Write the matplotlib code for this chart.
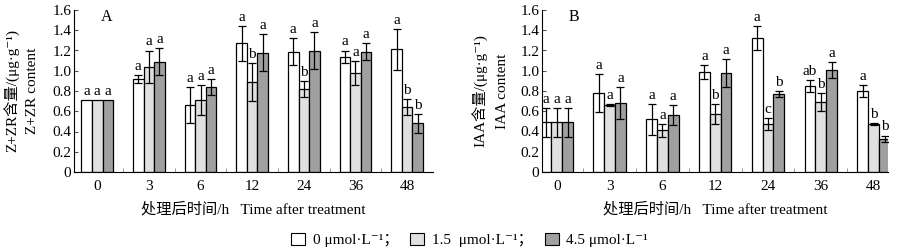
import numpy as np
import matplotlib
matplotlib.use('Agg')
import matplotlib.pyplot as plt
from matplotlib.patches import Patch

plt.rcParams['font.family'] = ['Liberation Serif', 'Noto Sans CJK SC', 'DejaVu Serif']
plt.rcParams['font.size'] = 11

HOURS = ["0", "3", "6", "12", "24", "36", "48"]
SERIES = ["0 μmol·L⁻¹；", "1.5  μmol·L⁻¹；", "4.5 μmol·L⁻¹"]
COLORS = ["white", "#e0e0e0", "#a0a0a0"]

# Z+ZR content (panel A)
zr_mean = [[0.71, 0.92, 0.66, 1.27, 1.19, 1.14, 1.21],
           [0.71, 1.04, 0.71, 0.89, 0.82, 0.98, 0.64],
           [0.71, 1.09, 0.84, 1.18, 1.20, 1.19, 0.48]]
zr_err = [[0.00, 0.04, 0.18, 0.17, 0.13, 0.06, 0.20],
          [0.00, 0.16, 0.15, 0.19, 0.08, 0.12, 0.08],
          [0.00, 0.13, 0.08, 0.18, 0.18, 0.08, 0.09]]
zr_sig = [["a", "a", "a", "a", "a", "a", "a"],
          ["a", "a", "a", "b", "b", "a", "b"],
          ["a", "a", "a", "a", "a", "a", "b"]]

# IAA content (panel B)
iaa_mean = [[0.49, 0.78, 0.52, 0.99, 1.32, 0.85, 0.80],
            [0.49, 0.66, 0.41, 0.57, 0.47, 0.69, 0.47],
            [0.49, 0.68, 0.56, 0.98, 0.77, 1.01, 0.33]]
iaa_err = [[0.14, 0.19, 0.15, 0.07, 0.12, 0.06, 0.06],
           [0.14, 0.01, 0.06, 0.10, 0.06, 0.09, 0.01],
           [0.14, 0.16, 0.10, 0.14, 0.03, 0.08, 0.03]]
iaa_sig = [["a", "a", "a", "a", "a", "ab", "a"],
           ["a", "a", "a", "b", "c", "b", "b"],
           ["a", "a", "a", "a", "b", "a", "b"]]


def draw_panel(ax, means, errs, sigs, letter, ylab1, ylab2, xlim, fig, ylx):
    x = np.arange(len(HOURS))
    w = 0.205
    for i in range(3):
        pos = x + (i - 1) * w
        ax.bar(pos, means[i], width=w, color=COLORS[i], edgecolor='black',
               linewidth=0.9, zorder=2)
        e = np.array(errs[i])
        m = np.array(means[i])
        mask = e > 0
        ax.errorbar(pos[mask], m[mask], yerr=e[mask], fmt='none',
                    ecolor='black', elinewidth=0.9, capsize=3, capthick=0.9,
                    zorder=3)
        for p, v, er, s in zip(pos, m, e, sigs[i]):
            ax.annotate(s, (p, v + er), xytext=(0, 1.5), textcoords='offset points',
                        ha='center', va='bottom', fontsize=11)
    ax.set_xlim(*xlim)
    ax.set_ylim(0, 1.6)
    ax.set_yticks(np.arange(0, 1.61, 0.2))
    ax.set_yticklabels(["0"] + [f"{v:.1f}" for v in np.arange(0.2, 1.61, 0.2)])
    ax.set_xticks(x)
    ax.set_xticklabels(HOURS)
    ax.set_xticks(x[:-1] + 0.5, minor=True)
    ax.tick_params(axis='x', which='major', length=0, pad=6)
    ax.tick_params(axis='x', which='minor', length=3, direction='in', color='#888888')
    ax.tick_params(axis='y', length=3, direction='in', color='#555555', pad=2)
    for s in ['top', 'right']:
        ax.spines[s].set_visible(False)
    ax.set_xlabel("处理后时间/h   Time after treatment", labelpad=6)
    ax.text(0.092, 0.955, letter, transform=ax.transAxes, ha='center', va='center',
            fontsize=11.5)
    bb = ax.get_position()
    yc = (bb.y0 + bb.y1) / 2
    fig.text(ylx[0], yc, ylab1, rotation=90, ha='center', va='center', fontsize=11)
    fig.text(ylx[1], yc, ylab2, rotation=90, ha='center', va='center', fontsize=11)


fig = plt.figure(figsize=(9.1, 2.5), dpi=100)
axA = fig.add_axes([0.0813, 0.312, 0.3945, 0.648])
axB = fig.add_axes([0.5956, 0.312, 0.3802, 0.648])

draw_panel(axA, zr_mean, zr_err, zr_sig, "A", "Z+ZR含量/(μg·g⁻¹)", "Z+ZR content",
           (-0.45, 6.5), fig, (12 / 910, 33 / 910))
draw_panel(axB, iaa_mean, iaa_err, iaa_sig, "B", "IAA含量/(μg·g⁻¹)", "IAA content",
           (-0.28, 6.27), fig, (480 / 910, 502 / 910))

handles = [Patch(facecolor=c, edgecolor='black', linewidth=0.8) for c in COLORS]
fig.legend(handles, SERIES, loc='center', bbox_to_anchor=(0.516, 0.04), ncol=3,
           frameon=False, handlelength=0.9, handleheight=0.9, handletextpad=0.5,
           columnspacing=0.8, fontsize=11)

fig.savefig("out.png", dpi=100)
